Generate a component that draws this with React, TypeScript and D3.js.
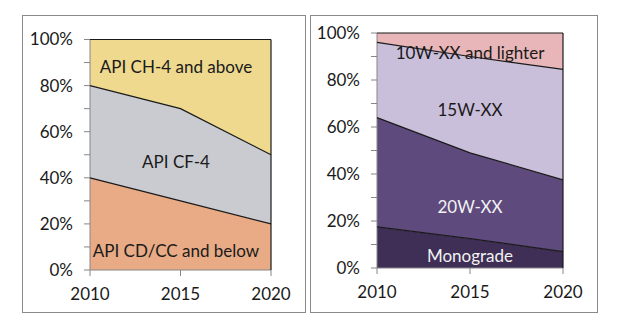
import React from "react";
import * as d3 from "d3";

const years = [2010, 2015, 2020];

// Left chart: API categories (percent shares)
const leftSeries = ["API CD/CC and below", "API CF-4", "API CH-4 and above"];
const apiCDCC = [40, 30, 20];
const apiCF4 = [40, 40, 30];
const apiCH4 = [20, 30, 50];

// Right chart: viscosity grades (percent shares)
const rightSeries = ["Monograde", "20W-XX", "15W-XX", "10W-XX and lighter"];
const monograde = [17.5, 12.5, 7];
const w20 = [46.5, 36.5, 30.5];
const w15 = [32, 41, 47];
const w10 = [4, 10, 15.5];

const yTicks = [0, 10, 20, 30, 40, 50, 60, 70, 80, 90, 100];
const yLabelTicks = [0, 20, 40, 60, 80, 100];

// label anchors in data units (year, percent)
const leftLabelAt = [
  { year: 2014.75, pct: 5.6 },
  { year: 2014.75, pct: 44.3 },
  { year: 2014.75, pct: 85.5 },
];
const rightLabelAt = [
  { year: 2015, pct: 2.6 },
  { year: 2015, pct: 23.4 },
  { year: 2015, pct: 64.7 },
  { year: 2015, pct: 88.9 },
];

const FONT = "Lato, 'Open Sans', sans-serif";
const FS = 17;

type PanelProps = {
  box: [number, number, number, number];
  xr: [number, number];
  yr: [number, number];
  names: string[];
  values: number[][];
  colors: string[];
  textColors: string[];
  labelAt: { year: number; pct: number }[];
};

function Panel({ box, xr, yr, names, values, colors, textColors, labelAt }: PanelProps) {
  const x = d3.scaleLinear().domain([2010, 2020]).range(xr);
  const y = d3.scaleLinear().domain([0, 100]).range(yr);
  const rows = years.map((yr2, i) => {
    const o: any = { year: yr2 };
    names.forEach((n, k) => (o[n] = values[k][i]));
    return o;
  });
  const stacked = d3.stack().keys(names)(rows);
  const area = d3
    .area<any>()
    .x((d) => x(d.data.year))
    .y0((d) => y(d[0]))
    .y1((d) => y(d[1]));
  const line = d3
    .line<any>()
    .x((d) => x(d.data.year))
    .y((d) => y(d[1]));
  const axisColor = "#868686";
  const tickLen = 6;
  return (
    <g>
      <rect x={box[0] + 0.5} y={box[1] + 0.5} width={box[2]} height={box[3]} fill="white" stroke="#8a8a8a" strokeWidth={1} />
      {stacked.map((s, k) => (
        <path key={"a" + k} d={area(s) || ""} fill={colors[k]} stroke="none" />
      ))}
      {/* left axis */}
      <line x1={xr[0]} x2={xr[0]} y1={yr[0]} y2={yr[1]} stroke={axisColor} strokeWidth={1} />
      {yTicks.map((t) => (
        <line key={"yt" + t} x1={xr[0] - tickLen} x2={xr[0]} y1={y(t)} y2={y(t)} stroke={axisColor} strokeWidth={1} />
      ))}
      {yLabelTicks.map((t) => (
        <text
          key={"yl" + t}
          x={xr[0] - 17}
          y={y(t)}
          dy="0.35em"
          textAnchor="end"
          fontFamily={FONT}
          fontSize={FS}
          fill="#1a1a1a"
        >
          {t + "%"}
        </text>
      ))}
      {/* bottom axis */}
      <line x1={xr[0]} x2={xr[1]} y1={yr[0]} y2={yr[0]} stroke={axisColor} strokeWidth={1} />
      {years.map((t) => (
        <g key={"xt" + t}>
          <line x1={x(t)} x2={x(t)} y1={yr[0]} y2={yr[0] + tickLen} stroke={axisColor} strokeWidth={1} />
          <text x={x(t)} y={yr[0] + 29.5} textAnchor="middle" fontFamily={FONT} fontSize={FS} fill="#1a1a1a">
            {t}
          </text>
        </g>
      ))}
      {/* series boundary lines */}
      {stacked.map((s, k) => (
        <path key={"l" + k} d={line(s) || ""} fill="none" stroke="#1a1a1a" strokeWidth={1.2} />
      ))}
      <line x1={xr[1]} x2={xr[1]} y1={yr[0]} y2={yr[1]} stroke="#1a1a1a" strokeWidth={1.2} />
      {names.map((n, k) => (
        <text
          key={"lab" + k}
          x={x(labelAt[k].year)}
          y={y(labelAt[k].pct)}
          textAnchor="middle"
          fontFamily={FONT}
          fontSize={FS}
          fill={textColors[k]}
        >
          {n}
        </text>
      ))}
    </g>
  );
}

export default function App() {
  return (
    <svg
      width={625}
      height={325}
      style={{ position: "absolute", left: 0, top: 0, background: "white" }}
    >
      <rect x={0} y={0} width={625} height={325} fill="white" />
      <Panel
        box={[22, 15, 283, 297]}
        xr={[90, 271]}
        yr={[270, 39.5]}
        names={leftSeries}
        values={[apiCDCC, apiCF4, apiCH4]}
        colors={["#E8AB85", "#C9CBD1", "#EED98F"]}
        textColors={["#1a1a1a", "#1a1a1a", "#1a1a1a"]}
        labelAt={leftLabelAt}
      />
      <Panel
        box={[310, 15, 287, 297]}
        xr={[377, 563]}
        yr={[268, 33]}
        names={rightSeries}
        values={[monograde, w20, w15, w10]}
        colors={["#3F2F56", "#5F4A7D", "#CABFDB", "#E8B6B8"]}
        textColors={["#f2f2f2", "#f2f2f2", "#1a1a1a", "#1a1a1a"]}
        labelAt={rightLabelAt}
      />
    </svg>
  );
}
